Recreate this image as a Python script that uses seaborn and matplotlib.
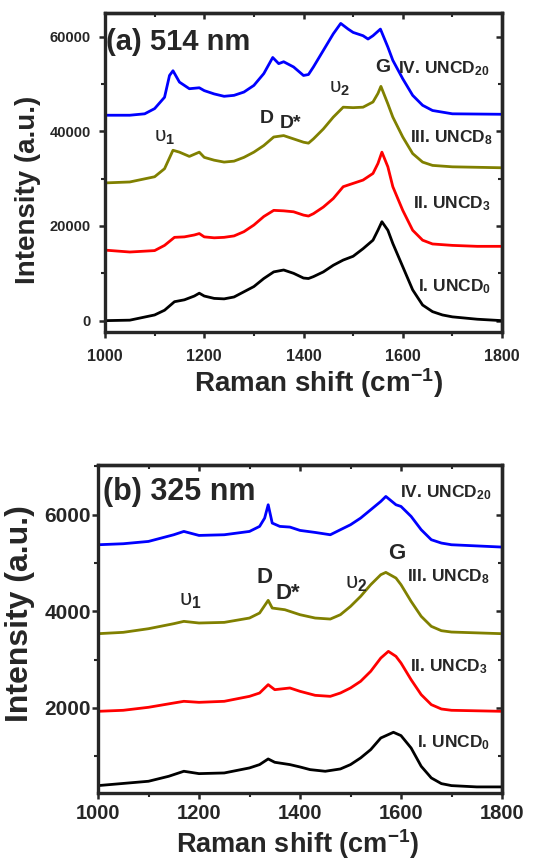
import matplotlib
matplotlib.use("Agg")
import matplotlib.pyplot as plt
import seaborn as sns
import pandas as pd
from matplotlib.ticker import MultipleLocator

# ---------------- Panel (a) 514 nm ----------------
a_x_I = [1000,1050,1100,1120,1140,1160,1180,1190,1200,1220,1240,1260,1280,1300,1320,1340,1360,1380,1400,1410,1420,1440,1460,1480,1500,1520,1540,1550,1558,1570,1580,1600,1620,1640,1660,1680,1700,1750,1800]
a_y_I = [0,100,1200,2200,4000,4400,5200,5800,5200,4700,4600,5000,6100,7200,8900,10300,10700,10000,9000,8900,9300,10300,11700,12800,13600,15200,17000,19100,20900,19100,16300,11400,6500,3300,1900,1200,800,300,0]

a_x_II = [1000,1050,1100,1120,1140,1160,1180,1190,1200,1220,1240,1260,1280,1300,1320,1340,1360,1380,1400,1410,1420,1440,1460,1480,1500,1520,1540,1550,1558,1570,1580,1600,1620,1640,1660,1700,1750,1800]
a_y_II = [14900,14500,14800,15900,17600,17700,18100,18400,17700,17500,17600,17900,18800,20200,22000,23300,23200,23000,22300,22100,22600,24000,25800,28300,29000,29700,31100,33200,35600,32500,28300,23300,19100,17000,16200,15900,15700,15700]

a_x_III = [1000,1050,1100,1120,1137,1150,1170,1190,1200,1220,1240,1260,1280,1300,1320,1340,1360,1380,1400,1410,1420,1440,1460,1480,1500,1520,1540,1550,1556,1570,1580,1600,1620,1640,1660,1700,1800]
a_y_III = [29100,29300,30400,32100,36000,35600,34700,35600,34500,33900,33500,33700,34500,35600,37000,38800,39100,38400,37700,37500,38400,40500,43000,45100,45000,45100,46200,48000,49500,45800,43000,38800,35300,33500,32800,32500,32300]

a_x_IV = [1000,1050,1080,1100,1120,1130,1137,1150,1170,1190,1200,1220,1240,1260,1280,1300,1320,1338,1350,1360,1380,1400,1410,1420,1440,1460,1475,1490,1500,1520,1530,1540,1555,1570,1580,1600,1620,1640,1660,1700,1800]
a_y_IV = [43400,43400,43700,44800,47200,51800,52800,50400,49000,49200,48600,47900,47400,47600,48300,49700,52200,55600,54300,54700,53600,51800,52000,53600,57100,60600,62800,61600,60900,60200,59500,60200,61600,57800,55000,51100,47600,45500,44400,43700,43600]

# ---------------- Panel (b) 325 nm ----------------
b_x_I = [1000,1100,1140,1170,1200,1250,1300,1320,1337,1350,1380,1400,1420,1450,1480,1500,1520,1540,1560,1585,1600,1620,1640,1660,1680,1700,1750,1800]
b_y_I = [393,483,586,690,641,655,759,828,945,876,828,779,724,690,738,828,966,1138,1379,1497,1428,1172,793,552,434,393,366,366]

b_x_II = [1000,1050,1100,1150,1170,1200,1250,1300,1320,1337,1350,1380,1400,1430,1460,1480,1500,1520,1540,1560,1575,1590,1600,1620,1640,1660,1680,1700,1800]
b_y_II = [1931,1952,2014,2103,2138,2117,2138,2241,2310,2483,2379,2414,2345,2262,2241,2310,2414,2552,2759,3034,3172,3069,2931,2586,2276,2069,1979,1952,1931]

b_x_III = [1000,1050,1100,1150,1170,1200,1250,1300,1320,1337,1345,1370,1400,1430,1460,1480,1500,1520,1540,1560,1570,1590,1600,1620,1640,1660,1680,1700,1800]
b_y_III = [3538,3566,3641,3745,3793,3759,3772,3862,3966,4228,4069,4034,3931,3862,3841,3931,4103,4310,4552,4759,4807,4690,4552,4207,3897,3690,3600,3572,3538]

b_x_IV = [1000,1050,1100,1150,1170,1200,1250,1300,1320,1330,1337,1345,1360,1380,1400,1430,1460,1480,1500,1520,1540,1560,1570,1590,1600,1620,1640,1660,1680,1700,1800]
b_y_IV = [5379,5400,5448,5586,5655,5572,5586,5655,5759,5931,6207,5828,5759,5745,5676,5634,5586,5690,5793,5931,6103,6276,6379,6207,6172,5966,5690,5483,5414,5379,5331]

series_names = ["I", "II", "III", "IV"]
series_labels = ["I. UNCD$_{0}$", "II. UNCD$_{3}$", "III. UNCD$_{8}$", "IV. UNCD$_{20}$"]
colors = {"I": "#000000", "II": "#ff0000", "III": "#808000", "IV": "#0000ff"}

def make_df(xs, ys):
    frames = []
    for name, x, y in zip(series_names, xs, ys):
        frames.append(pd.DataFrame({"shift": x, "intensity": y, "series": name}))
    return pd.concat(frames, ignore_index=True)

df_a = make_df([a_x_I, a_x_II, a_x_III, a_x_IV], [a_y_I, a_y_II, a_y_III, a_y_IV])
df_b = make_df([b_x_I, b_x_II, b_x_III, b_x_IV], [b_y_I, b_y_II, b_y_III, b_y_IV])

sns.set_style("ticks")
plt.rcParams["font.family"] = ["Liberation Sans", "DejaVu Sans"]
plt.rcParams["mathtext.fontset"] = "custom"
plt.rcParams["mathtext.rm"] = "Liberation Sans:bold"
plt.rcParams["mathtext.it"] = "Liberation Sans:bold"
plt.rcParams["mathtext.bf"] = "Liberation Sans:bold"

fig = plt.figure(figsize=(5.5, 8.63), dpi=100)
ax_a = fig.add_axes([105/550, 1-332/863, 397/550, 319/863])
ax_b = fig.add_axes([98/550, 1-793/863, 404/550, 328/863])

for ax, df in ((ax_a, df_a), (ax_b, df_b)):
    sns.lineplot(data=df, x="shift", y="intensity", hue="series", palette=colors,
                 estimator=None, sort=False, legend=False, linewidth=2.0, ax=ax)
    for sp in ax.spines.values():
        sp.set_linewidth(2.4)
        sp.set_visible(True)
    ax.set_xlim(1000, 1800)
    ax.xaxis.set_major_locator(MultipleLocator(200))
    ax.xaxis.set_minor_locator(MultipleLocator(100))
    ax.tick_params(direction="out", which="major", length=4, width=1.8)
    ax.tick_params(direction="out", which="minor", length=3, width=1.5)
    secx = ax.secondary_xaxis("top")
    secx.xaxis.set_major_locator(MultipleLocator(200))
    secx.xaxis.set_minor_locator(MultipleLocator(100))
    secx.tick_params(direction="in", which="major", length=4, width=1.8, labeltop=False)
    secx.tick_params(direction="in", which="minor", length=3, width=1.5, labeltop=False)
    secx.spines["top"].set_linewidth(2.4)

# ---- panel (a) styling ----
ax_a.set_ylim(-2400, 65000)
ax_a.yaxis.set_major_locator(MultipleLocator(20000))
ax_a.yaxis.set_minor_locator(MultipleLocator(10000))
ax_a.tick_params(axis="x", labelsize=11.5, pad=8)
ax_a.tick_params(axis="y", labelsize=10.5, pad=6)
for lab in ax_a.get_xticklabels() + ax_a.get_yticklabels():
    lab.set_fontweight("bold")
secy = ax_a.secondary_yaxis("right")
secy.yaxis.set_major_locator(MultipleLocator(20000))
secy.yaxis.set_minor_locator(MultipleLocator(10000))
secy.tick_params(direction="in", which="major", length=4, width=1.8, labelright=False)
secy.tick_params(direction="in", which="minor", length=3, width=1.5, labelright=False)
secy.spines["right"].set_linewidth(2.4)

ax_a.set_xlabel("Raman shift (cm$^{-1}$)", fontsize=20, fontweight="bold", va="center")
ax_a.set_ylabel("Intensity (a.u.)", fontsize=20, fontweight="bold", va="center")
ax_a.xaxis.set_label_coords(0.537, -0.16)
ax_a.yaxis.set_label_coords(-0.194, 0.445)

ax_a.text(1003, 58800, "(a) 514 nm", fontsize=21, fontweight="bold", va="center", ha="left")
lab_a_pos = [(1631, 7100), (1621, 24800), (1615, 38760), (1591, 53300)]
for (x, y), t in zip(lab_a_pos, series_labels):
    ax_a.text(x, y, t, fontsize=12.5, fontweight="bold", va="center", ha="left")
ax_a.text(1120, 38700, "υ$_1$", fontsize=15, va="center", ha="center")
ax_a.text(1325, 42700, "D", fontsize=14, fontweight="bold", va="center", ha="center")
ax_a.text(1373, 41700, "D*", fontsize=14, fontweight="bold", va="center", ha="center")
ax_a.text(1472, 49100, "υ$_2$", fontsize=15, va="center", ha="center")
ax_a.text(1560, 53500, "G", fontsize=14, fontweight="bold", va="center", ha="center")

# ---- panel (b) styling ----
ax_b.set_ylim(240, 7030)
ax_b.yaxis.set_major_locator(MultipleLocator(2000))
ax_b.yaxis.set_minor_locator(MultipleLocator(1000))
ax_b.tick_params(axis="x", labelsize=14.5, pad=4)
ax_b.tick_params(axis="y", labelsize=15, pad=1)
for lab in ax_b.get_xticklabels() + ax_b.get_yticklabels():
    lab.set_fontweight("bold")
    lab.set_family(["Liberation Sans Narrow", "Liberation Sans"])
secy_b = ax_b.secondary_yaxis("right")
secy_b.yaxis.set_major_locator(MultipleLocator(2000))
secy_b.yaxis.set_minor_locator(MultipleLocator(1000))
secy_b.tick_params(direction="in", which="major", length=4, width=1.8, labelright=False)
secy_b.tick_params(direction="in", which="minor", length=3, width=1.5, labelright=False)
secy_b.spines["right"].set_linewidth(2.4)

ax_b.set_xlabel("Raman shift (cm$^{-1}$)", fontsize=19.5, fontweight="bold", va="center",
                family=["Liberation Sans Narrow", "Liberation Sans"])
ax_b.set_ylabel("Intensity (a.u.)", fontsize=23, fontweight="bold", va="center",
                family=["Liberation Sans Narrow", "Liberation Sans"])
ax_b.xaxis.set_label_coords(0.493, -0.156)
ax_b.yaxis.set_label_coords(-0.193, 0.546)

ax_b.text(1010, 6467, "(b) 325 nm", fontsize=22, fontweight="bold", va="center", ha="left")
lab_b_pos = [(1631, 1276), (1618, 2848), (1612, 4710), (1598, 6467)]
for (x, y), t in zip(lab_b_pos, series_labels):
    ax_b.text(x, y, t, fontsize=12.5, fontweight="bold", va="center", ha="left")
ax_b.text(1182, 4234, "υ$_1$", fontsize=16, va="center", ha="center")
ax_b.text(1329, 4710, "D", fontsize=16, fontweight="bold", va="center", ha="center")
ax_b.text(1376, 4379, "D*", fontsize=16, fontweight="bold", va="center", ha="center")
ax_b.text(1511, 4586, "υ$_2$", fontsize=16, va="center", ha="center")
ax_b.text(1592, 5206, "G", fontsize=16, fontweight="bold", va="center", ha="center")

fig.savefig("out.png", dpi=100)
